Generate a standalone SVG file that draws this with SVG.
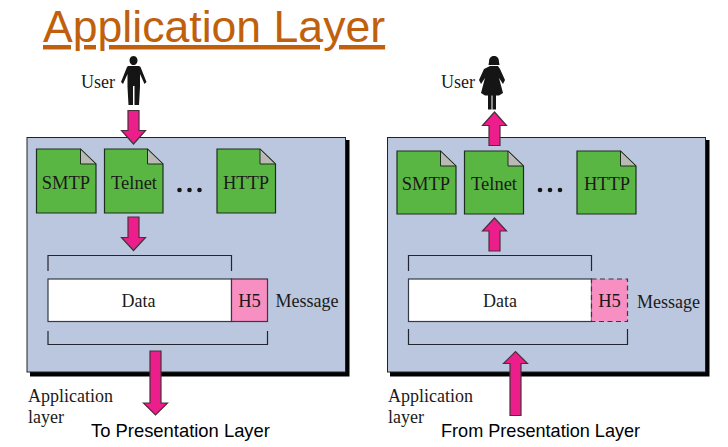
<svg xmlns="http://www.w3.org/2000/svg" width="728" height="447" viewBox="0 0 728 447">
<style>
.s{font-family:"Liberation Serif",serif;fill:#1a1a1a;font-size:18px}
.a{font-family:"Liberation Sans",Arial,sans-serif;fill:#000;font-size:18.400px}
.panel{fill:#bac7de;stroke:#222;stroke-width:1}
.shadow{fill:#000}
.doc{fill:#5ab642;stroke:#1e2e1e;stroke-width:1.2}
.fold{fill:#b9b9b5;stroke:#1e2e1e;stroke-width:1}
.arrow{fill:#ec1e8c;stroke:#4a3038;stroke-width:1.2}
.br{fill:none;stroke:#22262e;stroke-width:1.2}
.white{fill:#fff;stroke:#333a48;stroke-width:1.2}
.h5{fill:#f78fc3;stroke:#4a3040;stroke-width:1.2}
.dash{stroke-dasharray:5 3.5}
.fig{fill:#151515}
.n{font-size:18.500px}
</style>
<rect width="728" height="447" fill="#fff"/>
<text id="title" x="43" y="42" font-family="'Liberation Sans',Arial,sans-serif" font-size="44.600" fill="#c0600c" text-decoration="underline">Application Layer</text>

<g id="panel-left"><rect class="shadow" x="30" y="140" width="319.500" height="236.500"/><rect class="panel" x="27" y="137.500" width="318.500" height="234.500"/></g>
<g id="panel-right"><rect class="shadow" x="390" y="140" width="319.500" height="236.500"/><rect class="panel" x="387.500" y="137.500" width="318" height="234.500"/></g>

<g id="user-left"><text class="s" x="81" y="88">User</text>
<path class="fig" d="M133.500 56a4 4.500 0 1 0 .01 0zM128 66h11l1.500 1 6 15-2 2-4.500-10v13l-1 18h-4.500v-19h-1.500v19h-4.500l-1-18V74l-4.500 10-2-2 6-15z"/></g>
<g id="user-right"><text class="s" x="441" y="88">User</text>
<path class="fig" d="M494 56c3.500 0 5 2.500 5 6l.5 3h-11l.5-3c0-3.500 1.500-6 5-6zM490 66h8l2 3 5 11-2 4-4-6 4 15-4 2.500h-3v14h-3.500v-14h-1v14H488v-14h-3l-4-2.500 4-15-4 6-2-4 5-11z"/></g>

<g id="smtp-left"><path class="doc" d="M36.500 149h44l15.500 15v49h-59.500z"/><path class="fold" d="M80.500 149l15.500 15h-15.500z"/><text class="s n" x="66" y="189" text-anchor="middle">SMTP</text></g>
<g id="telnet-left"><path class="doc" d="M104.500 149h43l15.500 15v49h-58.500z"/><path class="fold" d="M147.500 149l15.500 15h-15.500z"/><text class="s n" x="134" y="189" text-anchor="middle">Telnet</text></g>
<g id="http-left"><path class="doc" d="M217 149h43l15.500 15v49h-58.500z"/><path class="fold" d="M260 149l15.500 15H260z"/><text class="s n" x="246" y="189" text-anchor="middle">HTTP</text></g>
<g id="dots-left"><circle class="fig" cx="179.500" cy="190" r="2.300"/><circle class="fig" cx="189.500" cy="190" r="2.300"/><circle class="fig" cx="199.500" cy="190" r="2.300"/></g>

<g id="smtp-right"><path class="doc" d="M397 151h43.500l15.500 15v48h-59z"/><path class="fold" d="M440.500 151l15.500 15h-15.500z"/><text class="s n" x="426" y="190" text-anchor="middle">SMTP</text></g>
<g id="telnet-right"><path class="doc" d="M464.500 151h43.500l15.500 15v48h-59z"/><path class="fold" d="M508 151l15.500 15H508z"/><text class="s n" x="494" y="190" text-anchor="middle">Telnet</text></g>
<g id="http-right"><path class="doc" d="M577 151h43.500l15.500 15v48h-59z"/><path class="fold" d="M620.500 151l15.500 15h-15.500z"/><text class="s n" x="607" y="190" text-anchor="middle">HTTP</text></g>
<g id="dots-right"><circle class="fig" cx="540" cy="190" r="2.300"/><circle class="fig" cx="550" cy="190" r="2.300"/><circle class="fig" cx="560" cy="190" r="2.300"/></g>

<g id="message-left"><rect class="white" x="48" y="279" width="183.500" height="42.500"/><rect class="h5" x="231.500" y="279" width="36" height="42.500"/><text class="s" x="138.500" y="307" text-anchor="middle">Data</text><text class="s n" x="249.500" y="307" text-anchor="middle">H5</text><text class="s" x="275.500" y="307">Message</text></g>
<g id="message-right"><rect class="white" x="408.500" y="279" width="183" height="42.500"/><rect class="h5 dash" x="591.500" y="279" width="36" height="42.500"/><text class="s" x="500" y="307" text-anchor="middle">Data</text><text class="s n" x="609.500" y="307" text-anchor="middle">H5</text><text class="s" x="637" y="308">Message</text></g>

<g id="connectors">
<path class="arrow" d="M128 110.500h11v20h6.500l-12 13.500-12-13.500h6.500z"/>
<path class="arrow" d="M128 217h11v20.500h6.500l-12 13-12-13h6.500z"/>
<path class="arrow" d="M150 351h11v52h6.500l-12 12-12-12h6.500z"/>
<path class="arrow" d="M489 145.500h11v-20h6.500l-12-13.500-12 13.500h6.500z"/>
<path class="arrow" d="M489 251h11v-20h6.500l-12-13-12 13h6.500z"/>
<path class="arrow" d="M510 415.500h11v-52h6.500l-12-12-12 12h6.500z"/>
<path class="br" d="M48 271v-15.500h183.500v15.500M48 331v13.500h219.500v-13.500M408.500 271v-15.500h183v15.500M408.500 329v15.500h219v-15.500"/>
</g>

<g id="label-left"><text class="s" x="28" y="402">Application</text><text class="s" x="28" y="423">layer</text><text class="a" x="91" y="437">To Presentation Layer</text></g>
<g id="label-right"><text class="s" x="388" y="402">Application</text><text class="s" x="388" y="423">layer</text><text class="a" x="441" y="437" font-size="18.100" style="font-size:18.100px">From Presentation Layer</text></g>
</svg>
